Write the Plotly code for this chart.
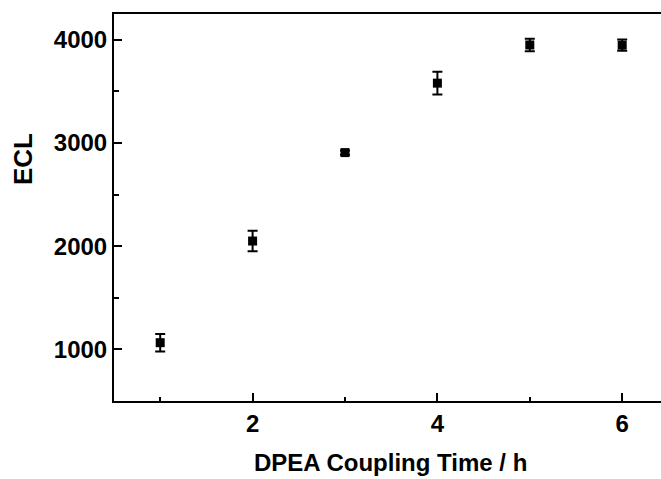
import plotly.graph_objects as go

# ECL signal versus DPEA coupling time
coupling_time_h = [1, 2, 3, 4, 5, 6]
ecl_intensity = [1065, 2050, 2907, 3580, 3950, 3948]
ecl_error = [85, 100, 20, 110, 60, 55]

x_major = [2, 4, 6]
x_minor = [1, 3, 5]
y_major = [1000, 2000, 3000, 4000]
y_minor = [1500, 2500, 3500]

font_family = "Arial, Liberation Sans, sans-serif"
tick_font = dict(family=font_family, size=24, color="black", weight="bold")

fig = go.Figure()
fig.add_trace(go.Scatter(
    x=coupling_time_h,
    y=ecl_intensity,
    mode="markers",
    marker=dict(symbol="square", size=9, color="black"),
    error_y=dict(type="data", array=ecl_error, visible=True,
                 color="black", thickness=2, width=5),
    showlegend=False,
))

fig.update_layout(
    width=661, height=479,
    margin=dict(l=114, r=0, t=14, b=78),
    paper_bgcolor="white", plot_bgcolor="white",
    font=dict(family=font_family, color="black"),
    xaxis=dict(
        range=[0.5, 6.42], tickvals=x_major, ticks="inside", ticklen=8,
        tickwidth=2, tickcolor="black", showline=True, linewidth=2,
        linecolor="black", showgrid=False, zeroline=False,
        tickfont=tick_font, mirror=True,
        minor=dict(tickvals=x_minor, ticks="inside", ticklen=4,
                   tickwidth=2, tickcolor="black"),
    ),
    yaxis=dict(
        range=[500, 4250], tickvals=y_major,
        ticks="inside", ticklen=8, tickwidth=2, tickcolor="black",
        showline=True, linewidth=2, linecolor="black", showgrid=False,
        zeroline=False, tickfont=tick_font,
        minor=dict(tickvals=y_minor, ticks="inside", ticklen=5,
                   tickwidth=2, tickcolor="black"),
    ),
    annotations=[
        dict(text="<b>DPEA Coupling Time / h</b>", xref="paper", yref="paper",
             x=(391 - 114) / 547, y=-(478 - 401) / 387, xanchor="center",
             yanchor="bottom", showarrow=False,
             font=dict(family=font_family, size=24, color="black")),
        dict(text="<b>ECL</b>", xref="paper", yref="paper",
             x=-(114 - 23) / 547, y=(465 - 223) / 387, xanchor="center",
             yanchor="middle", textangle=-90, showarrow=False,
             font=dict(family=font_family, size=26, color="black")),
    ],
)

fig.write_html("out.html")
